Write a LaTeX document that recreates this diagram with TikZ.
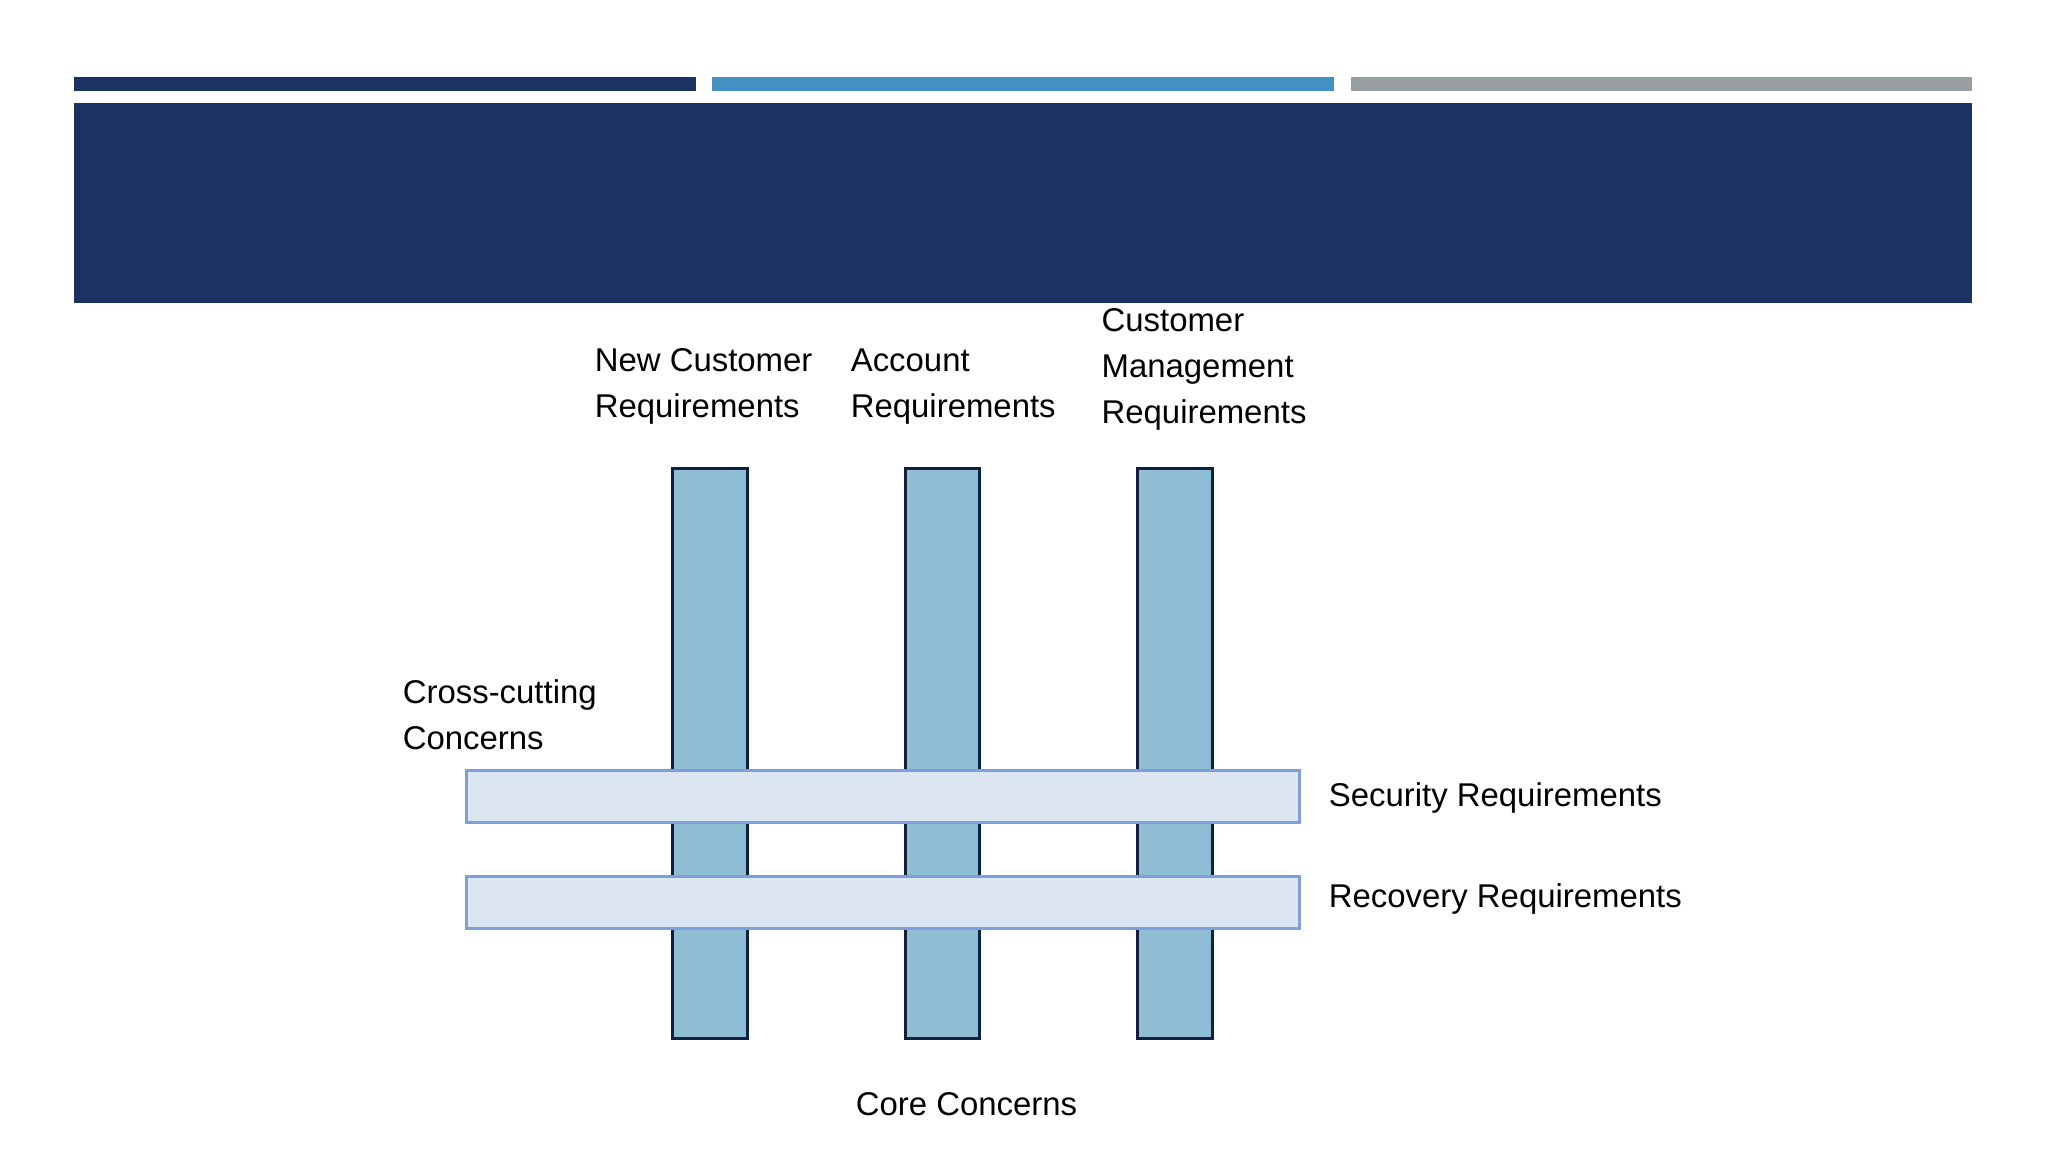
\documentclass[tikz,border=0pt]{standalone}
\usepackage{fontspec}
\setmainfont{Liberation Sans}
\begin{document}
\definecolor{navy}{HTML}{1C3263}
\definecolor{midblue}{HTML}{4391C0}
\definecolor{greybar}{HTML}{979FA2}
\definecolor{core}{HTML}{8FBDD3}
\definecolor{coreedge}{HTML}{0E1F40}
\definecolor{cross}{HTML}{DCE6F2}
\definecolor{crossedge}{HTML}{7F9FD9}
\begin{tikzpicture}[x=0.5pt,y=-0.5pt,
  corebar/.style={fill=core,draw=coreedge,line width=1.1pt},
  crossbar/.style={fill=cross,draw=crossedge,line width=1.1pt},
  lbl/.style={font=\fontsize{12.6}{17.5}\selectfont,align=left,inner sep=0pt}]
\useasboundingbox (0,0) rectangle (1568,882);
\fill[navy] (57,59) rectangle (533,70);
\fill[midblue] (545,59) rectangle (1021,70);
\fill[greybar] (1034,59) rectangle (1510,70);
\fill[navy] (57,79) rectangle (1510,232);
\node[corebar,minimum width=28.5pt,minimum height=218pt,inner sep=0pt] (c1) at (543.5,577) {};
\node[corebar,minimum width=28.5pt,minimum height=218pt,inner sep=0pt] (c2) at (721.5,577) {};
\node[corebar,minimum width=28.5pt,minimum height=218pt,inner sep=0pt] (c3) at (899.5,577) {};
\node[crossbar,minimum width=319pt,minimum height=20pt,inner sep=0pt] (s) at (676,610) {};
\node[crossbar,minimum width=319pt,minimum height=20pt,inner sep=0pt] (r) at (676,691) {};
\node[lbl,anchor=west] (l1) at (455,296) {New Customer\\Requirements};
\node[lbl,anchor=west] (l2) at (651,296) {Account\\Requirements};
\node[lbl,anchor=west] (l3) at (843,283) {Customer\\Management\\Requirements};
\node[lbl,anchor=west] (cc) at (308,547) {Cross-cutting\\Concerns};
\node[lbl,anchor=west] (sl) at (1017,611) {Security Requirements};
\node[lbl,anchor=west] (rl) at (1017,688) {Recovery Requirements};
\node[lbl] (core) at (740,845) {Core Concerns};
\end{tikzpicture}
\end{document}
